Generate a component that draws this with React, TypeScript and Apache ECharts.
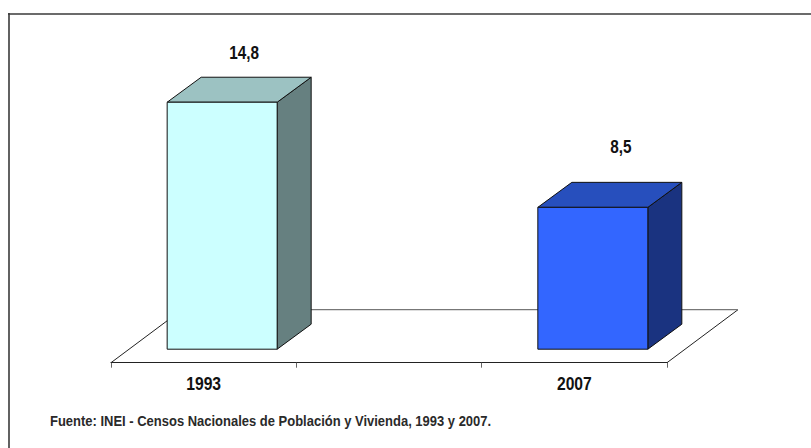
import React, { useEffect, useRef } from "react";
import * as echarts from "echarts";

const categories = ["1993", "", "2007"];
const values = [14.8, null, 8.5];
const labels = ["14,8", "", "8,5"];
const frontColors = ["#CCFFFF", "", "#3366FF"];
const topColors = ["#9CC2C2", "", "#274FBD"];
const sideColors = ["#668080", "", "#1A3380"];
const sourceText = "Fuente: INEI - Censos Nacionales de Población y Vivienda, 1993 y 2007.";
const FONT = "'Liberation Sans', Arial, sans-serif";

// Layout only: label placement relative to the bar's front-top centre
const labelDx = [22, 0, 28];
const labelDy = [-49, 0, -60];

export default function App() {
  const ref = useRef<HTMLDivElement>(null);
  useEffect(() => {
    const chart = echarts.init(ref.current!, null, { renderer: "svg" });
    const barW = 110, dx = 34, dy = 25, shiftX = 18.5, shiftY = 13.5;
    const floorDx = 71, floorDy = 53;
    chart.setOption({
      animation: false,
      backgroundColor: "#fff",
      grid: { left: 111, right: 144, top: 95.7, bottom: 85.3 },
      xAxis: {
        type: "category",
        data: categories,
        axisLine: { lineStyle: { color: "#222", width: 1.2 } },
        axisTick: { show: true, length: 5, lineStyle: { color: "#666" } },
        axisLabel: { show: false },
      },
      yAxis: { type: "value", min: 0, max: 16, show: false },
      graphic: [
        { type: "line", shape: { x1: 8, y1: 14, x2: 811, y2: 14 }, style: { stroke: "#6b6b6b", lineWidth: 2 } },
        { type: "line", shape: { x1: 9, y1: 13, x2: 9, y2: 448 }, style: { stroke: "#3a3a3a", lineWidth: 1.6 } },
        { type: "text", x: 50, y: 421, scaleX: 0.896, style: { text: sourceText, font: `bold 14.5px ${FONT}`, fill: "#2a2a2a", textVerticalAlign: "middle" } },
      ],
      series: [
        {
          type: "custom",
          z: 1,
          data: [[0, 0]],
          silent: true,
          renderItem: (p: any, api: any) => {
            const cs = p.coordSys;
            const y = api.coord([0, 0])[1];
            const ax = cs.x;
            const bx = cs.x + cs.width;
            return {
              type: "group",
              children: [
                { type: "line", shape: { x1: ax, y1: y, x2: ax + floorDx, y2: y - floorDy }, style: { stroke: "#222", lineWidth: 1 } },
                { type: "line", shape: { x1: bx, y1: y, x2: bx + floorDx, y2: y - floorDy }, style: { stroke: "#222", lineWidth: 1 } },
                { type: "line", shape: { x1: ax + floorDx, y1: y - floorDy, x2: bx + floorDx, y2: y - floorDy }, style: { stroke: "#777", lineWidth: 1.2 } },
              ],
            };
          },
        },
        {
          type: "custom",
          z: 2,
          silent: true,
          data: values.map((v, i) => [i, v ?? 0]),
          renderItem: (p: any, api: any) => {
            const i = p.dataIndex;
            if (!categories[i]) return null;
            const v = api.value(1);
            const top = api.coord([i, v]);
            const bot = api.coord([i, 0]);
            const x0 = top[0] + shiftX - barW / 2;
            const x1 = x0 + barW;
            const y0 = top[1] - shiftY;
            const y1 = bot[1] - shiftY;
            const stroke = { stroke: "#111", lineWidth: 1 };
            return {
              type: "group",
              children: [
                { type: "polygon", shape: { points: [[x1, y0], [x1 + dx, y0 - dy], [x1 + dx, y1 - dy], [x1, y1]] }, style: { fill: sideColors[i], ...stroke } },
                { type: "polygon", shape: { points: [[x0, y0], [x0 + dx, y0 - dy], [x1 + dx, y0 - dy], [x1, y0]] }, style: { fill: topColors[i], ...stroke } },
                { type: "rect", shape: { x: x0, y: y0, width: barW, height: y1 - y0 }, style: { fill: frontColors[i], ...stroke } },
                { type: "text", x: x0 + barW / 2 + labelDx[i], y: y0 + labelDy[i], scaleX: 0.85, style: { text: labels[i], font: `bold 18px ${FONT}`, fill: "#111", textAlign: "center", textVerticalAlign: "middle" } },
                { type: "text", x: bot[0], y: bot[1] + 21, scaleX: 0.87, style: { text: categories[i], font: `bold 18px ${FONT}`, fill: "#111", textAlign: "center", textVerticalAlign: "middle" } },
              ],
            };
          },
        },
      ],
    });
    return () => chart.dispose();
  }, []);
  return <div ref={ref} style={{ width: 811, height: 448, position: "absolute", left: 0, top: 0 }} />;
}
